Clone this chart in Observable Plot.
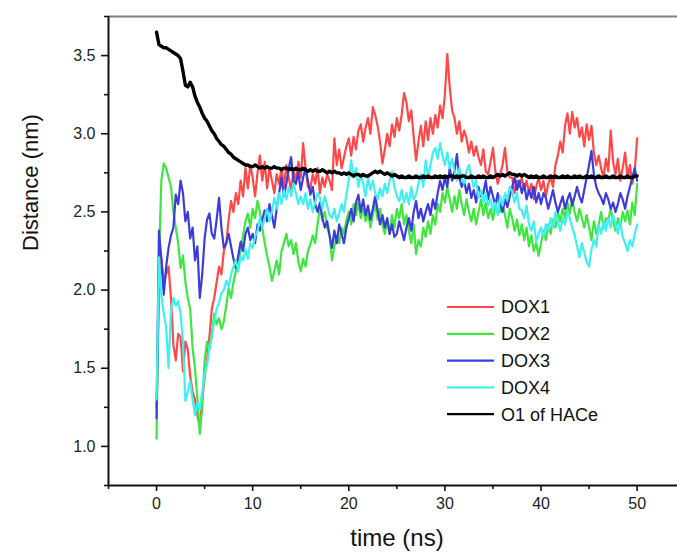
<!DOCTYPE html>
<html><head><meta charset="utf-8">
<script src="https://cdn.jsdelivr.net/npm/d3@7"></script>
<script src="https://cdn.jsdelivr.net/npm/@observablehq/plot@0.6"></script>
<style>
body{margin:0;background:#fff;}
#wrap{position:relative;width:677px;height:558px;overflow:hidden;background:#fff;}
#legend{position:absolute;left:0;top:0;}
#wrap svg g[aria-label$="tick label"], #wrap svg g[aria-label$="tick label"] text{font-size:16px !important;fill:#222;}
</style></head><body><div id="wrap"></div>
<script>
const seriesNames = ["DOX1","DOX2","DOX3","DOX4","O1 of HACe"];
const seriesColors = ["#ff4848","#3fe63f","#3c3cdc","#40f0f0","#000000"];

// time step 0.25 ns, 0..50 ns (one line = 5 ns)
const dox1 = [
1.25,1.95,2.20,2.05, 2.10,2.15,1.95,1.65, 1.55,1.72,1.70,1.48, 1.67,1.62,1.45,1.35, 1.30,1.20,1.12,1.30,
1.44,1.55,1.70,1.88, 1.95,2.05,2.15,2.10, 2.25,2.30,2.45,2.57, 2.50,2.62,2.55,2.70, 2.60,2.78,2.65,2.80,
2.72,2.60,2.75,2.86, 2.70,2.82,2.65,2.78, 2.70,2.62,2.74,2.68, 2.78,2.66,2.80,2.72, 2.64,2.76,2.70,2.82,
2.72,2.94,2.78,2.66, 2.65,2.74,2.68,2.78, 2.62,2.72,2.66,2.74, 2.70,2.64,2.97,2.80, 2.90,2.78,2.85,2.92,
2.97,2.86,2.98,2.90, 3.02,3.06,2.95,3.04, 3.10,3.00,3.17,3.12, 3.05,2.95,2.81,2.90, 3.00,2.92,3.06,2.98,
3.10,3.02,3.12,3.26, 3.20,3.08,3.15,2.98, 2.83,2.95,3.05,2.92, 3.08,2.96,3.10,3.00, 3.12,3.04,3.18,3.10,
3.25,3.51,3.30,3.15, 3.10,3.00,3.08,2.95, 3.02,2.97,2.88,2.95, 2.86,2.92,2.85,2.80, 2.90,2.76,2.74,2.82,
2.91,2.76,2.68,2.74, 2.80,2.91,2.76,2.72, 2.72,2.62,2.70,2.66, 2.72,2.64,2.70,2.62, 2.68,2.58,2.66,2.72,
2.64,2.70,2.60,2.68, 2.72,2.66,2.80,2.86, 2.95,2.88,3.05,3.13, 3.00,3.14,3.04,3.10, 2.98,3.04,2.92,3.06,
2.96,3.05,2.88,2.80, 2.86,2.78,2.72,2.84, 2.76,3.02,2.82,2.74, 2.84,2.70,2.78,2.88, 2.72,2.80,2.68,2.76,
2.97];

const dox2 = [
1.05,2.20,2.70,2.81, 2.78,2.72,2.66,2.50, 2.40,2.30,2.14,2.22, 2.05,1.95,1.88,1.63, 1.50,1.30,1.08,1.25,
1.55,1.67,1.62,1.72, 1.85,1.78,1.82,1.75, 1.80,1.90,2.01,1.95, 2.05,2.12,2.19,2.25, 2.35,2.44,2.49,2.40,
2.52,2.46,2.57,2.50, 2.40,2.30,2.22,2.15, 2.06,2.12,2.19,2.10, 2.25,2.30,2.36,2.28, 2.32,2.23,2.30,2.18,
2.12,2.20,2.15,2.25, 2.29,2.35,2.30,2.42, 2.53,2.45,2.50,2.40, 2.35,2.19,2.28,2.35, 2.30,2.40,2.36,2.45,
2.50,2.42,2.55,2.48, 2.56,2.46,2.52,2.44, 2.50,2.40,2.48,2.55, 2.45,2.52,2.42,2.36, 2.44,2.36,2.48,2.40,
2.52,2.46,2.55,2.42, 2.48,2.38,2.30,2.42, 2.23,2.32,2.28,2.40, 2.34,2.44,2.36,2.48, 2.42,2.55,2.50,2.62,
2.56,2.66,2.58,2.50, 2.60,2.52,2.64,2.55, 2.48,2.58,2.50,2.44, 2.52,2.42,2.50,2.58, 2.48,2.56,2.46,2.52,
2.45,2.54,2.60,2.50, 2.56,2.48,2.40,2.52, 2.46,2.38,2.45,2.35, 2.42,2.32,2.40,2.28, 2.35,2.25,2.30,2.22,
2.30,2.38,2.32,2.42, 2.36,2.45,2.40,2.50, 2.44,2.52,2.46,2.56, 2.49,2.58,2.50,2.44, 2.52,2.46,2.40,2.48,
2.40,2.32,2.44,2.36, 2.42,2.50,2.40,2.46, 2.45,2.52,2.44,2.38, 2.46,2.40,2.50,2.44, 2.51,2.42,2.56,2.48,
2.68];

const dox3 = [
1.18,2.38,2.20,1.97, 2.15,2.27,2.35,2.40, 2.61,2.55,2.70,2.62, 2.44,2.50,2.33,2.40, 2.19,2.28,1.95,2.10,
2.33,2.45,2.49,2.36, 2.33,2.45,2.59,2.40, 2.27,2.30,2.36,2.28, 2.20,2.14,2.22,2.31, 2.25,2.36,2.40,2.32,
2.36,2.30,2.42,2.38, 2.45,2.51,2.44,2.55, 2.48,2.40,2.52,2.62, 2.72,2.60,2.68,2.78, 2.85,2.70,2.68,2.75,
2.64,2.72,2.78,2.70, 2.61,2.66,2.55,2.50, 2.56,2.46,2.40,2.44, 2.35,2.27,2.38,2.30, 2.42,2.36,2.30,2.40,
2.46,2.52,2.44,2.56, 2.61,2.50,2.58,2.48, 2.54,2.45,2.52,2.60, 2.51,2.42,2.48,2.40, 2.46,2.36,2.42,2.34,
2.36,2.44,2.38,2.32, 2.40,2.46,2.38,2.50, 2.57,2.46,2.52,2.44, 2.50,2.55,2.48,2.58, 2.52,2.62,2.70,2.64,
2.72,2.66,2.78,2.70, 2.76,2.87,2.72,2.66, 2.70,2.62,2.68,2.59, 2.64,2.56,2.66,2.60, 2.62,2.70,2.58,2.66,
2.60,2.54,2.62,2.56, 2.50,2.58,2.53,2.60, 2.66,2.72,2.64,2.70, 2.62,2.68,2.58,2.64, 2.59,2.66,2.56,2.62,
2.55,2.62,2.59,2.52, 2.58,2.64,2.56,2.50, 2.55,2.60,2.52,2.58, 2.62,2.54,2.60,2.66, 2.60,2.56,2.64,2.72,
2.80,2.89,2.74,2.66, 2.62,2.59,2.55,2.62, 2.58,2.52,2.56,2.50, 2.55,2.62,2.58,2.52, 2.60,2.66,2.72,2.78,
2.70];

const dox4 = [
1.30,2.21,1.97,1.85, 1.76,1.50,1.87,1.95, 1.90,1.93,1.85,1.67, 1.29,1.35,1.42,1.30, 1.20,1.28,1.24,1.35,
1.46,1.52,1.63,1.70, 1.80,1.88,1.92,1.98, 2.00,2.06,2.02,2.10, 2.15,2.19,2.12,2.22, 2.19,2.26,2.20,2.30,
2.27,2.34,2.38,2.46, 2.40,2.46,2.52,2.44, 2.50,2.59,2.52,2.62, 2.55,2.64,2.58,2.66, 2.60,2.68,2.62,2.55,
2.60,2.55,2.62,2.52, 2.58,2.50,2.56,2.62, 2.59,2.52,2.60,2.54, 2.48,2.46,2.52,2.44, 2.49,2.55,2.50,2.61,
2.70,2.83,2.72,2.78, 2.66,2.74,2.68,2.60, 2.72,2.64,2.70,2.62, 2.58,2.65,2.60,2.68, 2.62,2.70,2.76,2.66,
2.60,2.57,2.64,2.56, 2.62,2.55,2.66,2.58, 2.61,2.68,2.74,2.66, 2.83,2.72,2.80,2.88, 2.91,2.84,2.94,2.86,
2.80,2.88,2.78,2.84, 2.76,2.70,2.78,2.72, 2.68,2.76,2.80,2.72, 2.66,2.70,2.59,2.64, 2.56,2.62,2.54,2.58,
2.51,2.56,2.48,2.60, 2.54,2.62,2.58,2.66, 2.63,2.56,2.62,2.52, 2.51,2.46,2.54,2.42, 2.38,2.44,2.31,2.36,
2.40,2.34,2.42,2.38, 2.46,2.40,2.50,2.44, 2.38,2.46,2.42,2.50, 2.46,2.40,2.35,2.28, 2.21,2.30,2.24,2.18,
2.15,2.26,2.32,2.28, 2.42,2.36,2.44,2.38, 2.46,2.40,2.48,2.42, 2.36,2.44,2.34,2.30, 2.25,2.32,2.28,2.36,
2.42];

const o1HACe = [
3.65,3.57,3.56,3.55, 3.55,3.54,3.53,3.52, 3.51,3.50,3.48,3.40, 3.31,3.30,3.33,3.30, 3.24,3.20,3.17,3.13,
3.10,3.08,3.05,3.02, 3.00,2.97,2.95,2.93, 2.92,2.90,2.88,2.87, 2.85,2.84,2.83,2.82, 2.81,2.80,2.80,2.79,
2.79,2.80,2.79,2.78, 2.79,2.78,2.79,2.78, 2.78,2.79,2.78,2.78, 2.77,2.78,2.78,2.77, 2.78,2.77,2.78,2.77,
2.77,2.78,2.77,2.76, 2.77,2.76,2.77,2.76, 2.76,2.77,2.76,2.75, 2.76,2.75,2.76,2.75, 2.75,2.74,2.75,2.74,
2.75,2.74,2.73,2.74, 2.74,2.73,2.74,2.73, 2.73,2.74,2.75,2.76, 2.75,2.76,2.75,2.74, 2.75,2.74,2.73,2.74,
2.73,2.72,2.73,2.72, 2.72,2.73,2.72,2.72, 2.73,2.72,2.72,2.73, 2.72,2.73,2.72,2.72, 2.73,2.72,2.73,2.72,
2.73,2.72,2.73,2.73, 2.72,2.73,2.72,2.73, 2.73,2.72,2.72,2.73, 2.72,2.72,2.73,2.72, 2.73,2.72,2.72,2.73,
2.72,2.73,2.74,2.73, 2.74,2.73,2.74,2.75, 2.74,2.74,2.73,2.74, 2.73,2.74,2.73,2.72, 2.73,2.72,2.73,2.72,
2.72,2.73,2.72,2.72, 2.73,2.72,2.73,2.72, 2.72,2.73,2.72,2.73, 2.72,2.72,2.73,2.72, 2.73,2.72,2.72,2.73,
2.72,2.73,2.72,2.72, 2.73,2.72,2.72,2.73, 2.72,2.72,2.73,2.72, 2.72,2.73,2.72,2.72, 2.73,2.72,2.72,2.73,
2.73];

const timeStep = 0.25;
const xTicks = [0, 10, 20, 30, 40, 50];
const xMinorTicks = [-5, 5, 15, 25, 35, 45];
const yTicks = [1.0, 1.5, 2.0, 2.5, 3.0, 3.5];
const yMinorTicks = [0.75, 1.25, 1.75, 2.25, 2.75, 3.25, 3.75];
const xDomain = [-5, 54.2];
const yDomain = [0.75, 3.75];
const xLabel = "time (ns)";
const yLabel = "Distance (nm)";

const seriesValues = [dox1, dox2, dox3, dox4, o1HACe];
const rows = seriesValues.map((vals, k) =>
  vals.map((v, i) => ({t: i * timeStep, d: v, s: seriesNames[k]})));

const lineMarks = rows.map((r, k) => Plot.line(r, {
  x: "t", y: "d", stroke: seriesColors[k],
  strokeWidth: k === 4 ? 3.4 : 2.2, strokeLinejoin: "round"
}));

const axisStyle = {stroke: "#111", strokeWidth: 1.6, label: null};

const chart = Plot.plot({
  width: 677, height: 558,
  marginLeft: 108, marginRight: 0, marginTop: 16, marginBottom: 73,
  x: {domain: xDomain},
  y: {domain: yDomain},
  style: {fontFamily: "'Liberation Sans', Arial, sans-serif", fontSize: "16px", color: "#222", background: "#fff"},
  marks: [
    ...lineMarks,
    Plot.ruleY([yDomain[1]], {stroke: "#808080", strokeWidth: 2}),
    Plot.ruleX([xDomain[0]], {stroke: "#111", strokeWidth: 2}),
    Plot.ruleY([yDomain[0]], {stroke: "#111", strokeWidth: 2}),
    Plot.axisY({...axisStyle, ticks: yTicks, tickSize: 7, tickPadding: 6, tickFormat: d3.format(".1f")}),
    Plot.axisY({...axisStyle, ticks: yMinorTicks, tickSize: 4, tickFormat: () => ""}),
    Plot.axisX({...axisStyle, ticks: xTicks, tickSize: 6, tickPadding: 6, tickFormat: d3.format("d")}),
    Plot.axisX({...axisStyle, ticks: xMinorTicks, tickSize: 4, tickFormat: () => ""}),
    Plot.text([yLabel], {text: d => d, frameAnchor: "left", rotate: -90, dx: -78, fontSize: 22, fill: "#111"}),
    Plot.text([xLabel], {text: d => d, frameAnchor: "bottom", dy: 60, dx: 4, fontSize: 24, fill: "#111"})
  ]
});

const wrap = document.getElementById("wrap");
wrap.appendChild(chart);

// legend overlay
const legendX0 = 447, legendX1 = 494, legendTextX = 501, legendY0 = 307, legendStep = 26.8;
const leg = d3.create("svg").attr("id", "legend").attr("width", 677).attr("height", 558);
seriesNames.forEach((name, k) => {
  const y = legendY0 + k * legendStep;
  leg.append("line").attr("x1", legendX0).attr("x2", legendX1).attr("y1", y).attr("y2", y)
    .attr("stroke", seriesColors[k]).attr("stroke-width", 2.2);
  leg.append("text").attr("x", legendTextX).attr("y", y).attr("dy", "0.35em")
    .attr("font-family", "'Liberation Sans', Arial, sans-serif").attr("font-size", 18)
    .attr("fill", "#111").text(name);
});
wrap.appendChild(leg.node());
</script></body></html>
